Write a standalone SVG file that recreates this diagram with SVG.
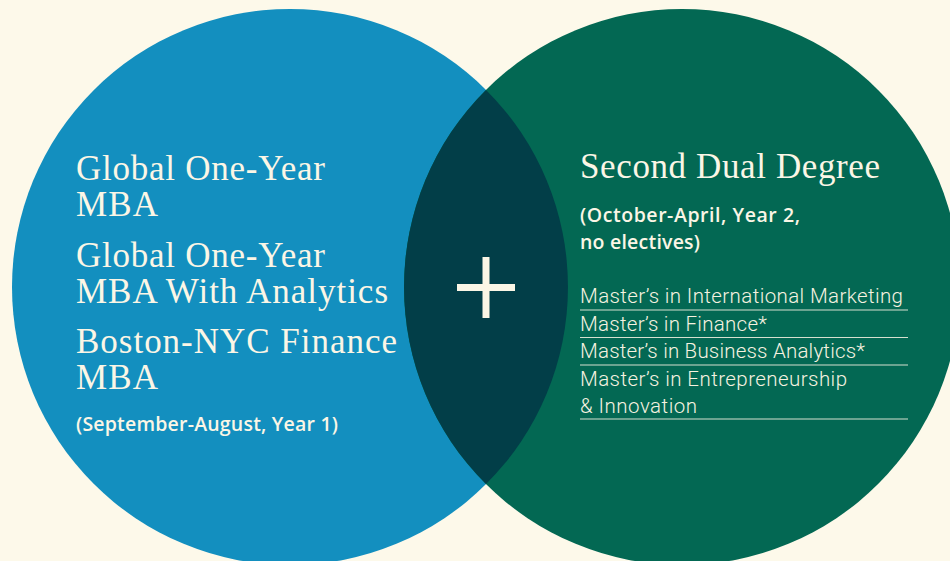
<svg xmlns="http://www.w3.org/2000/svg" width="950" height="561" viewBox="0 0 950 561">
  <style>
    .serif { font-family: "Liberation Serif", "Times New Roman", serif; font-size: 35px; fill: #fbf6e6; }
    .note { font-family: "Open Sans", "Liberation Sans", Arial, sans-serif; font-weight: 600; font-size: 19.5px; fill: #fbf6e6; }
    .item { font-family: Roboto, "Liberation Sans", Arial, sans-serif; font-weight: 300; font-size: 20.5px; fill: #f6f2e0; }
    .rule { stroke: #d6e0cf; stroke-width: 1.2; fill: none; }
  </style>

  <!-- page -->
  <rect width="950" height="561" fill="#fdf9ea"/>

  <!-- first-year programs -->
  <g id="year-one">
    <circle cx="290" cy="287" r="278" fill="#138fbf"/>
  </g>

  <!-- second-year degrees -->
  <g id="year-two">
    <circle cx="682" cy="287" r="278" fill="#036853"/>
  </g>

  <!-- overlap lens with plus -->
  <g id="overlap">
    <path d="M486,89.9 A278,278 0 0 1 486,484.1 A278,278 0 0 1 486,89.9 Z" fill="#023e48"/>
    <rect x="457" y="284" width="58" height="7" fill="#fbf6e6"/>
    <rect x="482.5" y="257" width="7" height="61" fill="#fbf6e6"/>
  </g>

  <g id="year-one-text">
    <text class="serif" x="76" y="180" textLength="249">Global One-Year</text>
    <text class="serif" x="76" y="216" textLength="82">MBA</text>
    <text class="serif" x="76" y="267" textLength="249">Global One-Year</text>
    <text class="serif" x="76" y="303" textLength="312">MBA With Analytics</text>
    <text class="serif" x="76" y="353" textLength="321">Boston-NYC Finance</text>
    <text class="serif" x="76" y="389" textLength="82">MBA</text>
    <text class="note" x="76" y="431" textLength="262">(September-August, Year 1)</text>
  </g>

  <g id="year-two-text">
    <text class="serif" x="580" y="178" textLength="300">Second Dual Degree</text>
    <text class="note" x="580" y="222" textLength="220">(October-April, Year 2,</text>
    <text class="note" x="580" y="249" textLength="120">no electives)</text>

    <text class="item" x="580" y="303" textLength="323">Master’s in International Marketing</text>
    <line class="rule" x1="580" y1="310" x2="908" y2="310"/>
    <text class="item" x="580" y="331" textLength="187">Master’s in Finance*</text>
    <line class="rule" x1="580" y1="337.5" x2="908" y2="337.5"/>
    <text class="item" x="580" y="358" textLength="285">Master’s in Business Analytics*</text>
    <line class="rule" x1="580" y1="365" x2="908" y2="365"/>
    <text class="item" x="580" y="386" textLength="267">Master’s in Entrepreneurship</text>
    <text class="item" x="580" y="413" textLength="117">&amp; Innovation</text>
    <line class="rule" x1="580" y1="419" x2="908" y2="419"/>
  </g>
</svg>
